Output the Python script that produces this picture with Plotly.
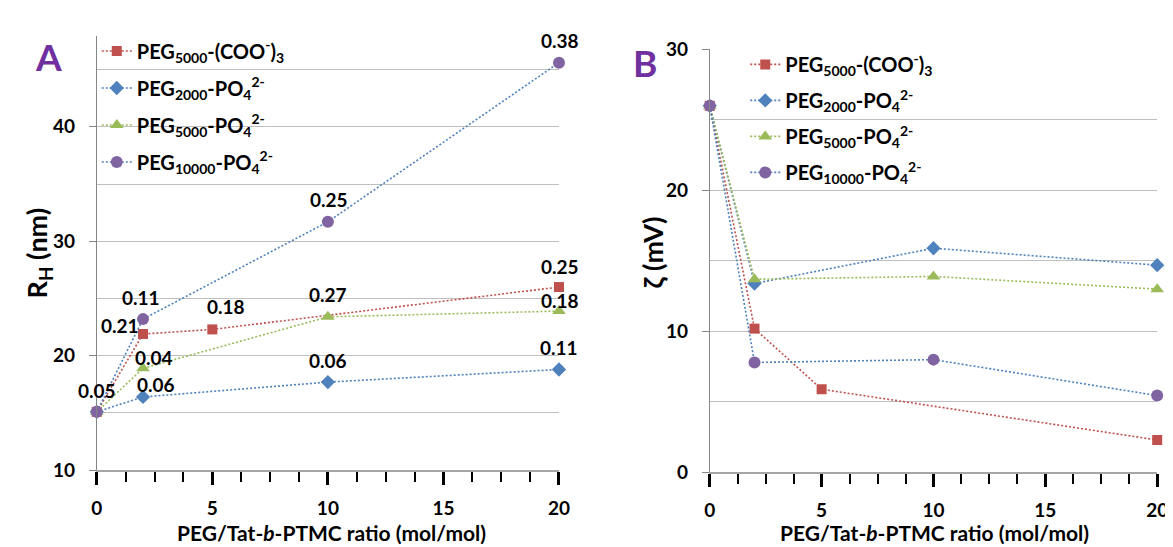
import plotly.graph_objects as go

W, H = 1173, 547

# ---------------- data ----------------
names = ["PEG<sub>5000</sub>-(COO<sup>-</sup>)<sub>3</sub>",
         "PEG<sub>2000</sub>-PO<sub>4</sub><sup>2-</sup>",
         "PEG<sub>5000</sub>-PO<sub>4</sub><sup>2-</sup>",
         "PEG<sub>10000</sub>-PO<sub>4</sub><sup>2-</sup>"]

x_coo = [0, 2, 5, 20]
x_po4 = [0, 2, 10, 20]

# Panel A: hydrodynamic radius (nm)
rh_coo5000 = [15.1, 21.9, 22.3, 26.0]
rh_po2000 = [15.1, 16.4, 17.7, 18.8]
rh_po5000 = [15.1, 18.9, 23.4, 23.9]
rh_po10000 = [15.1, 23.2, 31.7, 45.6]

# PDI labels (panel A)
pdi_coo5000 = ["0.05", "0.21", "0.18", "0.25"]
pdi_po2000 = [None, "0.06", "0.06", "0.11"]
pdi_po5000 = [None, "0.04", "0.27", "0.18"]
pdi_po10000 = [None, "0.11", "0.25", "0.38"]

# Panel B: zeta potential (mV)
zeta_coo5000 = [26.0, 10.2, 5.9, 2.3]
zeta_po2000 = [26.0, 13.4, 15.9, 14.7]
zeta_po5000 = [26.0, 13.7, 13.9, 13.0]
zeta_po10000 = [26.0, 7.8, 8.0, 5.45]

x_title = "PEG/Tat-<i>b</i>-PTMC ratio (mol/mol)"

# ---------------- styles ----------------
RED, BLUE, GREEN, PURPLE = "#C0504D", "#4F81BD", "#9BBB59", "#8064A2"
FONT = "Lato"
series_style = [
    dict(mc=RED, lc=RED, sym="square", size=10),
    dict(mc=BLUE, lc=BLUE, sym="diamond", size=11),
    dict(mc=GREEN, lc=GREEN, sym="triangle-up", size=12),
    dict(mc=PURPLE, lc=BLUE, sym="circle", size=12),
]

fig = go.Figure()

def add_series(xs, ys, i, xa, ya, legend):
    st = series_style[i]
    fig.add_trace(go.Scatter(
        x=xs, y=ys, name=names[i], mode="lines+markers",
        xaxis=xa, yaxis=ya, legend=legend, legendgroup=f"{legend}{i}",
        line=dict(color=st["lc"], width=1.6, dash="2px,2px"),
        marker=dict(color=st["mc"], symbol=st["sym"], size=st["size"], line=dict(width=0)),
        cliponaxis=False,
    ))

a_series = [(x_coo, rh_coo5000), (x_po4, rh_po2000), (x_po4, rh_po5000), (x_po4, rh_po10000)]
b_series = [(x_coo, zeta_coo5000), (x_po4, zeta_po2000), (x_po4, zeta_po5000), (x_po4, zeta_po10000)]
for i, (xs, ys) in enumerate(a_series):
    add_series(xs, ys, i, "x", "y", "legend")
for i, (xs, ys) in enumerate(b_series):
    add_series(xs, ys, i, "x2", "y2", "legend2")

# data labels (PDI) in panel A
label_offsets = [
    [(0, 21), (-23, 8), (14, 23), (1, 21)],
    [None, (13, 12), (0, 22), (0, 22)],
    [None, (11, 11), (0, 22), (1, 11)],
    [None, (-2, 22), (1, 22), (1, 22)],
]
pdis = [pdi_coo5000, pdi_po2000, pdi_po5000, pdi_po10000]
annotations = []
for i, (xs, ys) in enumerate(a_series):
    for j, (xv, yv) in enumerate(zip(xs, ys)):
        t = pdis[i][j]
        if t is None:
            continue
        dx, dy = label_offsets[i][j]
        annotations.append(dict(
            x=xv, y=yv, xref="x", yref="y", text=f"<b>{t}</b>", showarrow=False,
            xshift=dx, yshift=dy, font=dict(family=FONT, size=19, color="black"),
            xanchor="center", yanchor="middle"))

def px_x(p):
    return p / W

def px_y(p):
    return (H - p) / H

# panel letters
annotations.append(dict(x=px_x(35), y=px_y(38), xref="paper", yref="paper", text="<b>A</b>",
                        showarrow=False, font=dict(family=FONT, size=37, color="#7030A0"),
                        xanchor="center", yanchor="middle"))
annotations.append(dict(x=px_x(640), y=px_y(44), xref="paper", yref="paper", text="<b>B</b>",
                        showarrow=False, font=dict(family=FONT, size=37, color="#7030A0"),
                        xanchor="center", yanchor="middle"))
# axis titles
annotations.append(dict(x=px_x(322), y=px_y(535), xref="paper", yref="paper", text=f"<b>{x_title}</b>",
                        showarrow=False, font=dict(family=FONT, size=21, color="black"),
                        xanchor="center", yanchor="middle"))
annotations.append(dict(x=px_x(934), y=px_y(535), xref="paper", yref="paper", text=f"<b>{x_title}</b>",
                        showarrow=False, font=dict(family=FONT, size=21, color="black"),
                        xanchor="center", yanchor="middle"))
annotations.append(dict(x=px_x(25), y=px_y(243), xref="paper", yref="paper", text="<b>R<sub>H</sub> (nm)</b>",
                        showarrow=False, textangle=-90, font=dict(family=FONT, size=27, color="black"),
                        xanchor="center", yanchor="middle"))
annotations.append(dict(x=px_x(648), y=px_y(243), xref="paper", yref="paper", text="<b>ζ (mV)</b>",
                        showarrow=False, textangle=-90, font=dict(family=FONT, size=27, color="black"),
                        xanchor="center", yanchor="middle"))

tickfont = dict(family=FONT, size=19, color="black", weight="bold")
GRID = "#bfbfbf"

def xaxis(domain):
    return dict(domain=domain, range=[0, 20], tick0=0, dtick=5, showgrid=False, zeroline=False,
                showline=True, linecolor="#a6a6a6", linewidth=1.5,
                ticks="outside", ticklen=13, tickwidth=3, tickcolor="black",
                ticklabelstandoff=7, tickfont=tickfont,
                minor=dict(dtick=1.25, tick0=0, ticks="outside", ticklen=10, tickwidth=2,
                           tickcolor="black", showgrid=False))

def yaxis(domain, rng, tick0, anchor):
    return dict(domain=domain, range=rng, tick0=tick0, dtick=10, anchor=anchor,
                showgrid=True, gridcolor=GRID, gridwidth=1.3, zeroline=False,
                showline=True, linecolor="#868686", linewidth=1,
                ticks="outside", ticklen=7, tickwidth=1, tickcolor="#868686",
                ticklabelstandoff=10, tickfont=tickfont,
                minor=dict(dtick=5, tick0=tick0, showgrid=True, gridcolor=GRID, gridwidth=1.3, ticks=""))

legend_font = dict(family=FONT, size=20, color="black", weight="bold")

fig.update_layout(
    width=W, height=H, autosize=False,
    margin=dict(l=0, r=0, t=0, b=0),
    paper_bgcolor="white", plot_bgcolor="white",
    xaxis=dict(**xaxis([px_x(84), px_x(553)]), anchor="y"),
    yaxis=yaxis([px_y(470), px_y(16.7)], [10, 47.93], 10, "x"),
    xaxis2=dict(**xaxis([px_x(706), px_x(1160)]), anchor="y2"),
    yaxis2=yaxis([px_y(472.3), px_y(30.7)], [0, 30], 0, "x2"),
    legend=dict(x=px_x(84), y=px_y(12), xanchor="left", yanchor="top", bgcolor="rgba(0,0,0,0)",
                font=legend_font, tracegroupgap=8, itemwidth=30),
    legend2=dict(x=px_x(742), y=px_y(26), xanchor="left", yanchor="top", bgcolor="rgba(0,0,0,0)",
                 font=legend_font, tracegroupgap=7, itemwidth=30),
    annotations=annotations,
    shapes=[
        dict(type="rect", xref="paper", yref="paper", layer="between",
             x0=px_x(122), x1=px_x(322), y0=px_y(165), y1=px_y(0),
             fillcolor="white", line=dict(width=0)),
        dict(type="rect", xref="paper", yref="paper", layer="between",
             x0=px_x(777), x1=px_x(975), y0=px_y(168), y1=px_y(15),
             fillcolor="white", line=dict(width=0)),
    ],
    showlegend=True,
)

fig.write_html("out.html")
